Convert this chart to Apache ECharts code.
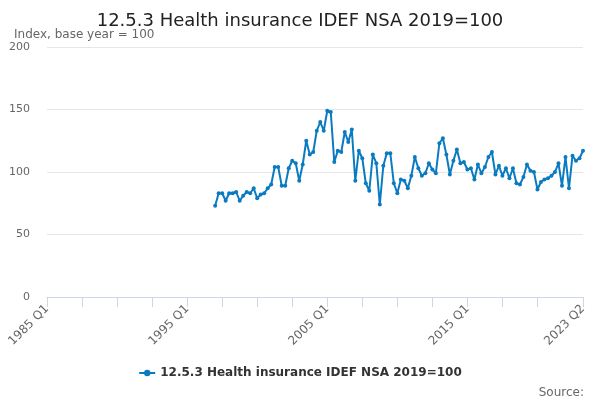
<!DOCTYPE html>
<html>
<head>
<meta charset="utf-8">
<script src="https://cdn.jsdelivr.net/npm/echarts@6/dist/echarts.min.js"></script>
<style>
  html, body { margin: 0; padding: 0; background: #fff; }
  #chart { width: 600px; height: 400px; }
</style>
</head>
<body>
<div id="chart"></div>
<script>
// axis runs 1985 Q1 .. 2023 Q2, data starts 1997 Q1
var firstYear = 1985;
var lastYear = 2023, lastQuarter = 2;
var dataStart = '1997 Q1';

var values = [
    73, 83, 83, 77, 83, 83, 84, 77, 81, 84,
    83, 87, 79, 82, 83, 87, 90, 104, 104, 89,
    89, 103, 109, 107, 93, 106, 125, 114, 116, 133,
    140, 133, 149, 148, 108, 117, 116, 132, 124, 134,
    93, 117, 111, 91, 85, 114, 107, 74, 105, 115,
    115, 91, 83, 94, 93, 87, 97, 112, 103, 97,
    99, 107, 102, 99, 123, 127, 114, 98, 109, 118,
    107, 108, 102, 103, 94, 106, 99, 104, 112, 116,
    98, 105, 97, 103, 95, 103, 91, 90, 96, 106,
    101, 100, 86, 92, 94, 95, 97, 100, 107, 89,
    112, 87, 113, 109, 111, 117
];

var categories = [];
for (var y = firstYear; y <= lastYear; y++) {
    for (var q = 1; q <= 4; q++) {
        if (y === lastYear && q > lastQuarter) break;
        categories.push(y + ' Q' + q);
    }
}

var seriesData = [];
var offset = categories.indexOf(dataStart);
for (var i = 0; i < categories.length; i++) {
    seriesData.push(i >= offset && i - offset < values.length ? values[i - offset] : null);
}
var lastIdx = categories.length - 1;

var myChart = echarts.init(document.getElementById('chart'));
var option = {
    backgroundColor: '#ffffff',
    animation: false,
    textStyle: { fontFamily: 'DejaVu Sans' },
    title: [{
        text: '12.5.3 Health insurance IDEF NSA 2019=100',
        left: 'center',
        top: 7,
        textStyle: { color: '#222222', fontSize: 18, fontWeight: 'normal', fontFamily: 'DejaVu Sans' }
    }, {
        text: 'Index, base year = 100',
        left: 9,
        top: 24,
        textStyle: { color: '#666666', fontSize: 12, fontWeight: 'normal', fontFamily: 'DejaVu Sans' }
    }, {
        text: 'Source:',
        right: 11,
        top: 382,
        textStyle: { color: '#666666', fontSize: 12, fontWeight: 'normal', fontFamily: 'DejaVu Sans' }
    }],
    legend: {
        bottom: 16,
        left: 'center',
        itemWidth: 16,
        itemHeight: 8,
        textStyle: { color: '#333333', fontSize: 12, fontWeight: 'bold', fontFamily: 'DejaVu Sans' },
        data: ['12.5.3 Health insurance IDEF NSA 2019=100']
    },
    grid: { left: 47, right: 17, top: 47, bottom: 103 },
    xAxis: {
        type: 'category',
        data: categories,
        boundaryGap: false,
        axisLine: { lineStyle: { color: '#ccd6eb' } },
        axisTick: {
            length: 10,
            lineStyle: { color: '#ccd6eb' },
            interval: function (idx) { return (idx % 10 === 0 && idx <= 140) || idx === lastIdx; }
        },
        axisLabel: {
            rotate: 45,
            color: '#666666',
            fontSize: 12,
            margin: 10,
            interval: function (idx) { return idx % 40 === 0 || idx === lastIdx; }
        },
        splitLine: { show: false }
    },
    yAxis: {
        type: 'value',
        min: 0,
        max: 200,
        interval: 50,
        axisLine: { show: false },
        axisTick: { show: false },
        axisLabel: { color: '#666666', fontSize: 11, margin: 17 },
        splitLine: { lineStyle: { color: '#e6e6e6' } }
    },
    series: [{
        name: '12.5.3 Health insurance IDEF NSA 2019=100',
        type: 'line',
        data: seriesData,
        symbol: 'circle',
        symbolSize: 4,
        showAllSymbol: true,
        connectNulls: false,
        lineStyle: { color: '#0b7bc1', width: 2 },
        itemStyle: { color: '#0b7bc1' }
    }]
};
myChart.setOption(option);
</script>
</body>
</html>
